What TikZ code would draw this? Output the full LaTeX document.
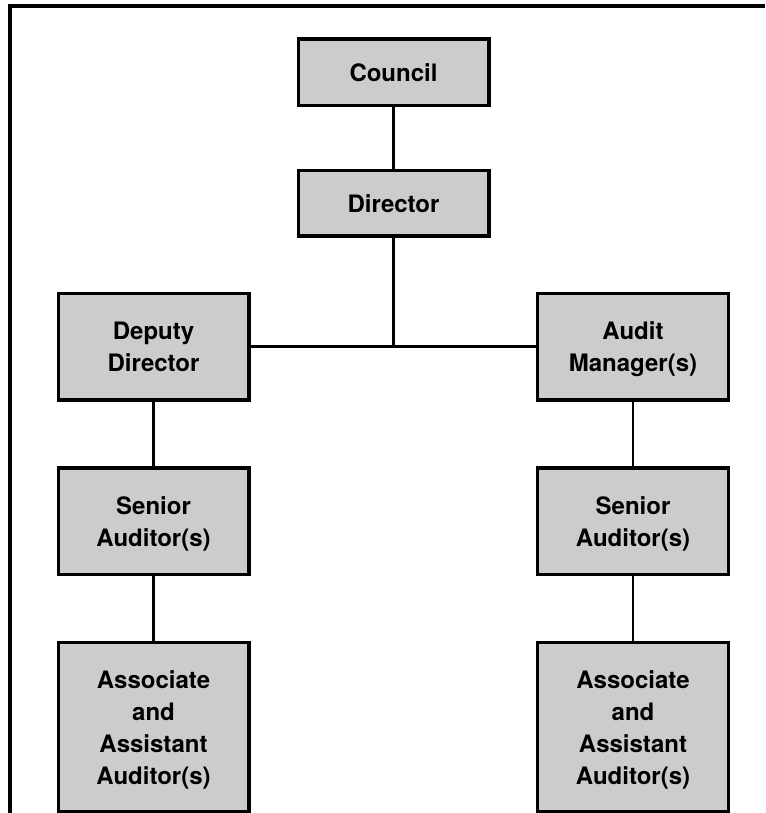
\documentclass[tikz,border=0pt]{standalone}
\usepackage{fontspec}
\setmainfont{TeX Gyre Heros}
\usepackage{tikz}
\usetikzlibrary{positioning}

\begin{document}
\begin{tikzpicture}[
      x=0.75pt, y=-0.75pt,
      post/.style ={rectangle, draw=black, line width=2.5pt, fill=black!20, align=center,
                    minimum width=143pt, inner sep=0pt, text depth=0pt,
                    font=\fontsize{18}{24}\selectfont\bfseries},
      link/.style ={draw=black, line width=2.1pt},
      node distance=46pt
    ]
    \useasboundingbox (0,0) rectangle (765,813);
    % frame
    \draw [line width=2.5pt] (765,6) -- (10,6) -- (10,813) ;

    \node [post, minimum height=50pt] (council) at (393.5,72.5) {Council} ;
    \node [post, minimum height=49pt] (director) [below=of council] {Director} ;
    \node [post, minimum height=80pt] (deputy) at (153.5,346.5) {Deputy\\Director} ;
    \node [post, minimum height=80pt] (manager) at (633,346.5) {Audit\\Manager(s)} ;
    \node [post, minimum height=80pt] (seniorL) [below=48.5pt of deputy] {Senior\\Auditor(s)} ;
    \node [post, minimum height=80pt] (seniorR) [below=48.5pt of manager] {Senior\\Auditor(s)} ;
    \node [post, minimum height=127pt] (assistL) [below=48.5pt of seniorL] {Associate\\and\\Assistant\\Auditor(s)} ;
    \node [post, minimum height=127pt] (assistR) [below=48.5pt of seniorR] {Associate\\and\\Assistant\\Auditor(s)} ;

    \coordinate (split) at (director.south |- deputy.east) ;
    \draw [link] (council) -- (director) ;
    \draw [link] (director) -- (split) ;
    \draw [link] (deputy) -- (manager) ;
    \draw [link] (deputy) -- (seniorL) ;
    \draw [link] (seniorL) -- (assistL) ;
    \draw [link] (manager) -- (seniorR) ;
    \draw [link] (seniorR) -- (assistR) ;
  \end{tikzpicture}
\end{document}
